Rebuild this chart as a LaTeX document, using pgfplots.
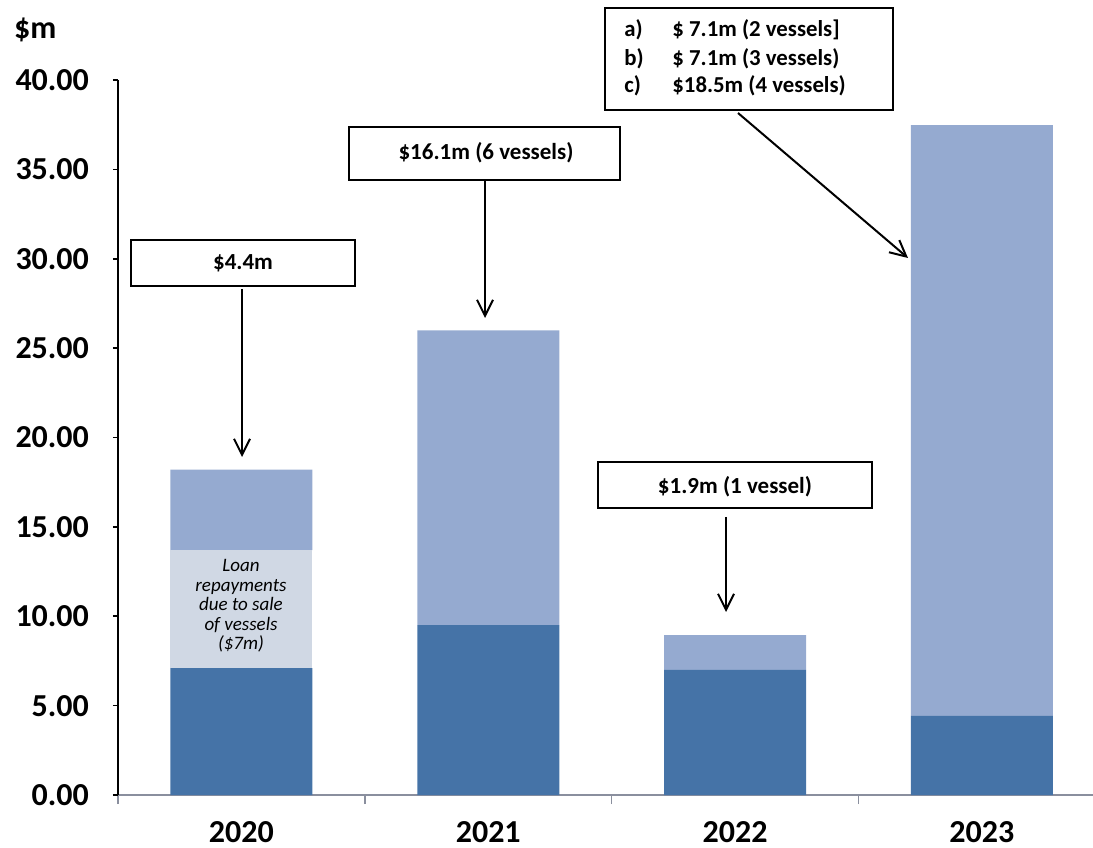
\documentclass[border=0pt]{standalone}
\usepackage{fontspec}
\setmainfont{Carlito}
\usepackage{pgfplots}
\pgfplotsset{compat=1.18}
\usetikzlibrary{arrows.meta}
\definecolor{darkb}{HTML}{4573A7}
\definecolor{lightb}{HTML}{95AAD0}
\definecolor{grayb}{HTML}{D0D8E4}
\definecolor{axgray}{HTML}{8A8F9E}
\begin{document}
\begin{tikzpicture}
\useasboundingbox (0,0) rectangle (546.5pt,423.5pt);
\begin{axis}[
  at={(59pt,26pt)}, anchor=south west,
  scale only axis, width=487.5pt, height=357.5pt,
  ybar stacked, bar width=71pt,
  xmin=-0.5, xmax=3.45, ymin=0, ymax=40,
  axis x line*=bottom, axis y line*=left,
  x axis line style={axgray, line width=0.8pt, -},
  y axis line style={black, line width=0.8pt, -},
  xtick={0,1,2,3}, xticklabels={2020,2021,2022,2023},
  major x tick style={draw=none},
  minor xtick={-0.5,0.5,1.5,2.5},
  minor x tick style={axgray, line width=0.8pt},
  minor tick length=4.5pt,
  ytick={0,5,...,40},
  major y tick style={black, line width=0.8pt},
  major tick length=2.5pt,
  tick align=outside,
  /pgf/number format/assume math mode=true,
  yticklabel style={/pgf/number format/fixed, /pgf/number format/zerofill, /pgf/number format/precision=2, font=\bfseries\fontsize{16}{18}\selectfont, xshift=-8.5pt},
  xticklabel style={font=\bfseries\fontsize{16}{18}\selectfont, yshift=-7pt},
  scaled y ticks=false,
  clip=false,
]
\addplot[fill=darkb, draw=none] coordinates {(0,7.1) (1,9.5) (2,7.0) (3,4.42)};
\addplot[fill=grayb, draw=none] coordinates {(0,6.6) (1,0) (2,0) (3,0)};
\addplot[fill=lightb, draw=none] coordinates {(0,4.5) (1,16.5) (2,1.95) (3,33.06)};
\end{axis}
\begin{scope}[x=0.5pt,y=-0.5pt,yshift=423.5pt]
\node[anchor=west, font=\bfseries\fontsize{16}{18}\selectfont] at (7,30) {\$m};
\node[align=center, font=\itshape\fontsize{9.5}{9.7}\selectfont] at (241,606) {Loan\\repayments\\due to sale\\of vessels\\(\$7m)};
\begin{scope}[line width=0.75pt]
\draw[fill=white] (131,240) rectangle (355,286);
\node[font=\bfseries\fontsize{11.5}{13}\selectfont] at (243,263) {\$4.4m};
\draw[fill=white] (349,127) rectangle (620,180);
\node[font=\bfseries\fontsize{11.5}{13}\selectfont] at (486,153) {\$16.1m (6 vessels)};
\draw[fill=white] (598,462) rectangle (872,508);
\node[font=\bfseries\fontsize{11.5}{13}\selectfont] at (735,487) {\$1.9m (1 vessel)};
\draw[fill=white] (605,8) rectangle (893,110);
\node[anchor=west, font=\bfseries\fontsize{11.4}{13}\selectfont] at (617,30) {a)};
\node[anchor=west, font=\bfseries\fontsize{11.4}{13}\selectfont] at (617,59) {b)};
\node[anchor=west, font=\bfseries\fontsize{11.4}{13}\selectfont] at (617,86) {c)};
\node[anchor=west, font=\bfseries\fontsize{11.4}{13}\selectfont] at (665,30) {\$ 7.1m (2 vessels]};
\node[anchor=west, font=\bfseries\fontsize{11.4}{13}\selectfont] at (665,59) {\$ 7.1m (3 vessels)};
\node[anchor=west, font=\bfseries\fontsize{11.4}{13}\selectfont] at (665,86) {\$18.5m (4 vessels)};
\end{scope}
\begin{scope}[line width=1pt, -{Straight Barb[length=8pt,width=8pt]}]
\draw (242,289) -- (242,457);
\draw (485,180) -- (485,318);
\draw (726,517) -- (726,612);
\draw (738,113) -- (908,258);
\end{scope}
\end{scope}
\end{tikzpicture}
\end{document}
